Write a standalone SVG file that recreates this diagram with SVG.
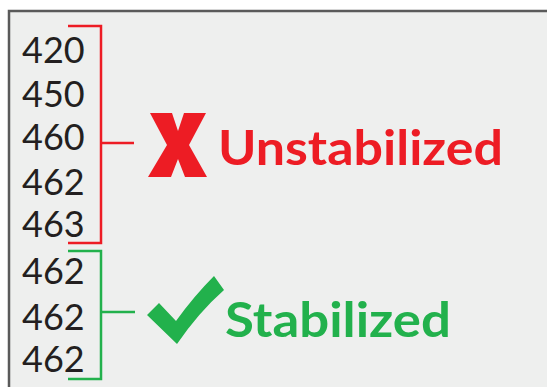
<svg xmlns="http://www.w3.org/2000/svg" width="547" height="387" viewBox="0 0 547 387">
<style>
.num{font-family:"Lato","Liberation Sans",sans-serif;font-size:36px;fill:#231f20}
.lbl{font-family:"Lato","Liberation Sans",sans-serif;font-weight:bold;font-size:48px}
.br{fill:none;stroke-width:2.5}
.red{stroke:#ed1c24}
.green{stroke:#22b14c}
</style>
<rect x="0" y="0" width="547" height="387" fill="#ffffff"/>
<rect x="9" y="11" width="540" height="380" fill="#eeefee" stroke="#5a5a5a" stroke-width="2.5"/>
<g id="unstable-values">
<text class="num" x="22" y="63">420</text>
<text class="num" x="22" y="107">450</text>
<text class="num" x="22" y="150">460</text>
<text class="num" x="22" y="195">462</text>
<text class="num" x="22" y="237">463</text>
</g>
<g id="stable-values">
<text class="num" x="22" y="284">462</text>
<text class="num" x="22" y="330">462</text>
<text class="num" x="22" y="372">462</text>
</g>
<g id="connectors">
<polyline class="br red" points="68,26 101,26 101,243 68,243"/>
<line class="br red" x1="101" y1="143" x2="134" y2="143"/>
<polyline class="br green" points="68,251 101,251 101,379 68,379"/>
<line class="br green" x1="101" y1="312" x2="135" y2="312"/>
</g>
<g id="unstabilized">
<polygon fill="#ed1c24" points="150,113 172,113 178,131 184,113 206,113 189,145 207,177 185,177 178,159 171,177 148,177 167,145"/>
<text class="lbl" x="218" y="165" fill="#ed1c24" textLength="285" lengthAdjust="spacingAndGlyphs">Unstabilized</text>
</g>
<g id="stabilized">
<path fill="#22b14c" d="M147,315 L159,303 L176,321 Q194,296 214,276 L224,290 Q199,312 177,344 Z"/>
<text class="lbl" x="225" y="337" fill="#22b14c" textLength="226" lengthAdjust="spacingAndGlyphs">Stabilized</text>
</g>
</svg>
